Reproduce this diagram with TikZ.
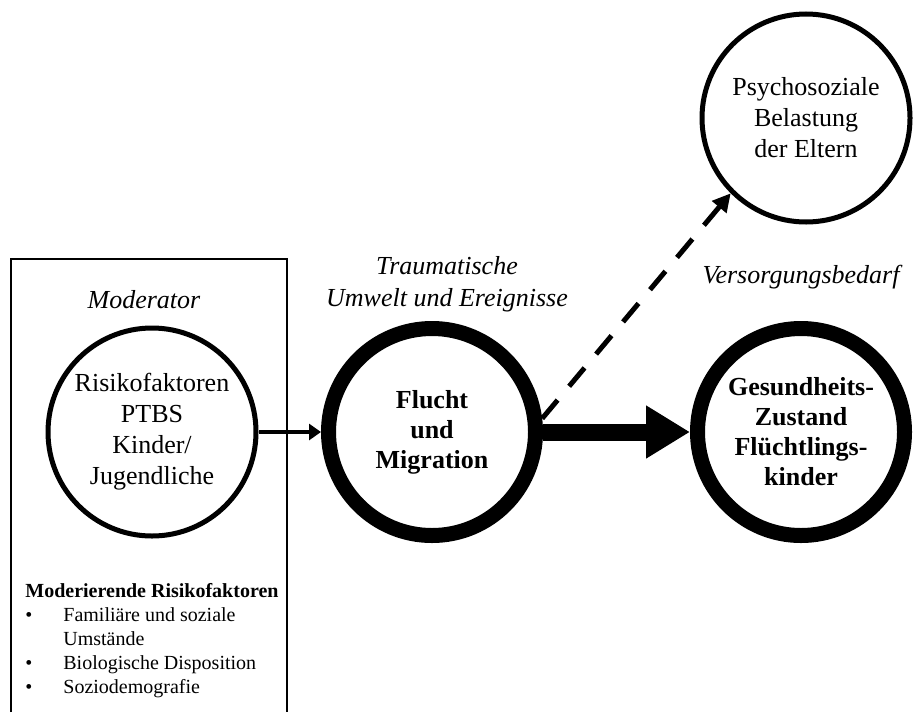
\documentclass[tikz,border=0pt]{standalone}
\usepackage{fontspec}
\setmainfont{Liberation Serif}
\usetikzlibrary{calc}
\usetikzlibrary{shapes}
\usetikzlibrary{arrows.meta}
\usetikzlibrary{positioning}

\begin{document}
\begin{tikzpicture}[x = 0.5pt, y = -0.5pt,
  thin circle/.style = {circle, draw = black, line width = 2.5pt, minimum size = 104pt, inner sep = 0pt, align = center, font = \fontsize{13}{15.5}\selectfont},
  thick circle/.style = {circle, draw = black, line width = 7.5pt, minimum size = 103.5pt, inner sep = 0pt, align = center, font = \fontsize{13}{15}\selectfont\bfseries},
  heading/.style = {inner sep = 0pt, align = center, font = \fontsize{13}{16}\selectfont\itshape}]
\useasboundingbox (0,0) rectangle (913,712);
\draw[line width = 1pt] (11,712) |- (287,259) -- (287,712);
\draw (152,432) node[thin circle, name = risk]{Risikofaktoren\\PTBS\\Kinder/\\Jugendliche};
\draw (risk) + (280,0) node[thick circle, name = flucht]{Flucht\\und\\Migration};
\draw (flucht) + (369,0) node[thick circle, name = gesund]{Gesundheits-\\Zustand\\Flüchtlings-\\kinder};
\draw (gesund) + (5,-314) node[thin circle, name = psycho]{Psychosoziale\\Belastung\\der Eltern};
\draw (risk) + (-8,-132) node[heading, name = moderator]{Moderator};
\draw (flucht) + (15,-148) node[heading, name = umwelt]{Traumatische\\Umwelt und Ereignisse};
\draw (gesund) + (0,-155) node[heading, name = bedarf]{Versorgungsbedarf};
\draw (25,583) node[anchor = north west, inner sep = 0pt, align = left, font = \fontsize{10}{12}\selectfont, name = faktoren]{\textbf{Moderierende Risikofaktoren}\\\makebox[19pt][l]{\textbullet}Familiäre und soziale\\\hspace*{19pt}Umstände\\\makebox[19pt][l]{\textbullet}Biologische Disposition\\\makebox[19pt][l]{\textbullet}Soziodemografie};
\draw[line width = 1.6pt, -{Triangle[length = 6pt, width = 8pt]}] (risk) -- (flucht);
\draw[line width = 8.5pt, -{Triangle[length = 22pt, width = 25pt]}] (flucht) -- (gesund);
\draw[line width = 2.5pt, dash pattern = on 12pt off 9pt, -{Triangle[length = 9pt, width = 9pt]}] (flucht.7) -- (psycho.225);
\end{tikzpicture}
\end{document}
